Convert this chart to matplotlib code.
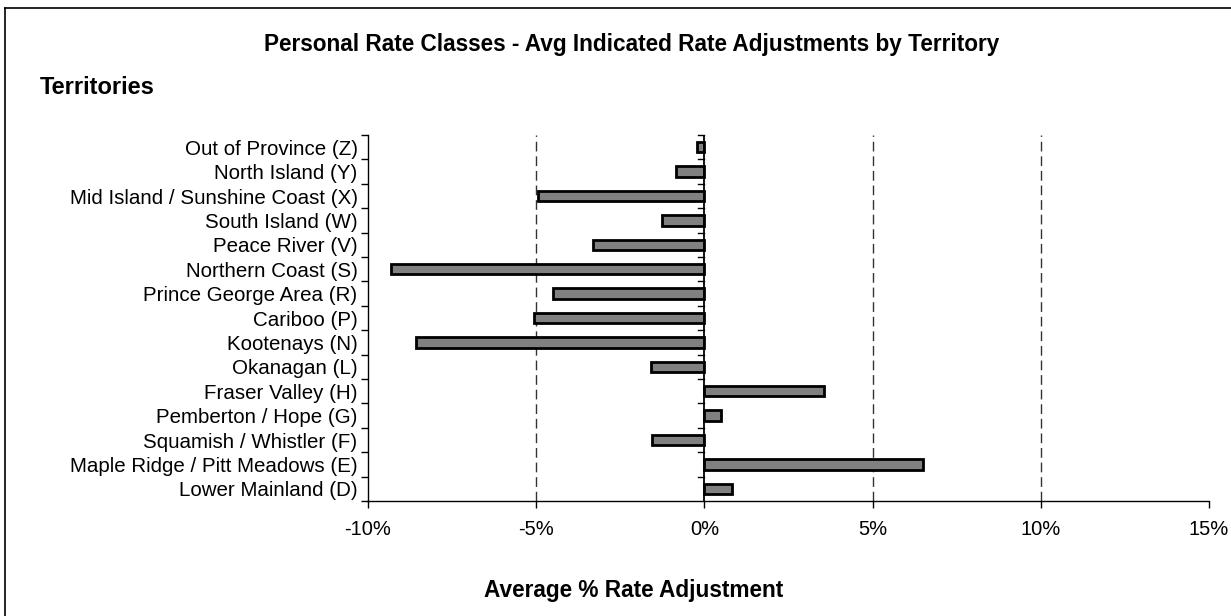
import numpy as np
import matplotlib.pyplot as plt
from matplotlib.lines import Line2D
from matplotlib.ticker import FixedLocator, FuncFormatter

plt.rcParams['font.family'] = ['Liberation Sans', 'DejaVu Sans']

# territories, listed top to bottom
territories = ['Out of Province (Z)', 'North Island (Y)', 'Mid Island / Sunshine Coast (X)',
               'South Island (W)', 'Peace River (V)', 'Northern Coast (S)',
               'Prince George Area (R)', 'Cariboo (P)', 'Kootenays (N)', 'Okanagan (L)',
               'Fraser Valley (H)', 'Pemberton / Hope (G)', 'Squamish / Whistler (F)',
               'Maple Ridge / Pitt Meadows (E)', 'Lower Mainland (D)']
# average indicated rate adjustment, %
adjustment = [-0.23, -0.84, -4.94, -1.25, -3.30, -9.33, -4.51, -5.07,
              -8.58, -1.60, 3.55, 0.49, -1.57, 6.49, 0.82]
x_ticks = [-10, -5, 0, 5, 10, 15]

fig = plt.figure(figsize=(12.31, 6.16), dpi=100)
ax = fig.add_axes([368 / 1231, 115 / 616, 841 / 1231, 366 / 616])

n = len(territories)
ypos = np.arange(n)
ax.barh(ypos, adjustment, height=0.42, color='#808080', edgecolor='black',
        linewidth=2, zorder=3)

ax.set_xlim(-10, 15)
ax.set_ylim(n - 0.5, -0.5)

# dashed gridlines
for v in [-5, 5, 10]:
    ax.axvline(v, color='#333333', lw=1, ls=(0, (7, 3.5)), zorder=1)

# zero line with short ticks at category boundaries
ax.axvline(0, color='black', lw=1.3, zorder=4)
bounds = np.arange(n + 1) - 0.5
for b in bounds[:-1]:
    ax.plot([-0.2, 0], [b, b], color='black', lw=1, zorder=4, clip_on=False)

ax.set_yticks(ypos)
ax.set_yticklabels(territories, fontsize=14.8)
ax.tick_params(axis='y', length=0, pad=7.5)
ax.yaxis.set_minor_locator(FixedLocator(bounds))
ax.tick_params(axis='y', which='minor', length=5, width=1, direction='out')

ax.set_xticks(x_ticks)
ax.xaxis.set_major_formatter(FuncFormatter(lambda v, p: '%d%%' % v))
ax.tick_params(axis='x', labelsize=14.5, length=5, width=1, pad=9)

for s in ['top', 'right']:
    ax.spines[s].set_visible(False)
for s in ['left', 'bottom']:
    ax.spines[s].set_linewidth(1)

fig.text(632 / 1231, 1 - 45 / 616, 'Personal Rate Classes - Avg Indicated Rate Adjustments by Territory',
         ha='center', va='center', fontsize=16.3, fontweight='bold')
fig.text(40 / 1231, 1 - 87 / 616, 'Territories', ha='left', va='center',
         fontsize=17, fontweight='bold')
fig.text(634 / 1231, 1 - 591 / 616, 'Average % Rate Adjustment', ha='center', va='center',
         fontsize=16.3, fontweight='bold')

# outer chart frame (left and top edges)
fig.add_artist(Line2D([5 / 1231, 5 / 1231], [0, 1 - 8 / 616], color='black', lw=1.2))
fig.add_artist(Line2D([5 / 1231, 1], [1 - 8 / 616, 1 - 8 / 616], color='black', lw=1.2))

fig.savefig('out.png', dpi=100)
